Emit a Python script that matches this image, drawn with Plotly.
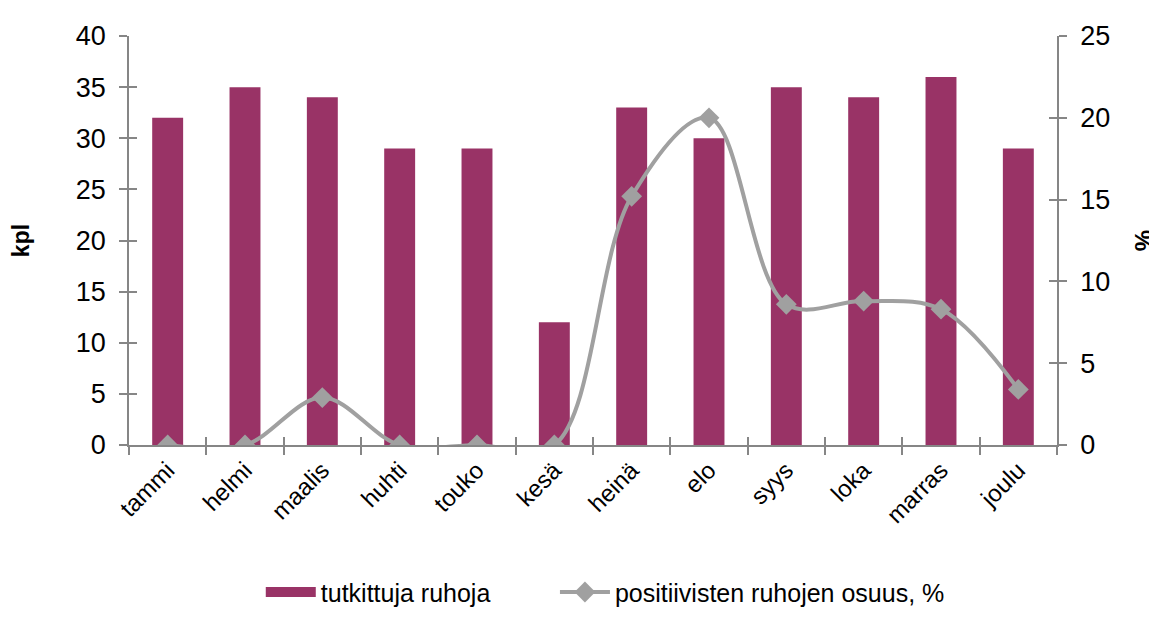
import plotly.graph_objects as go

months = ["tammi", "helmi", "maalis", "huhti", "touko", "kesä",
          "heinä", "elo", "syys", "loka", "marras", "joulu"]
examined = [32, 35, 34, 29, 29, 12, 33, 30, 35, 34, 36, 29]
positive_pct = [0, 0, 2.9, 0, 0, 0, 15.2, 20.0, 8.6, 8.8, 8.3, 3.4]

bar_name = "tutkittuja ruhoja"
line_name = "positiivisten ruhojen osuus, %"

FONT = "Arial, Liberation Sans, sans-serif"
AXIS_COLOR = "#868686"
BAR_COLOR = "#993366"
LINE_COLOR = "#A0A0A0"
TL = 8
n = len(months)
boundaries = [i - 0.5 for i in range(n + 1)]

fig = go.Figure()
fig.add_trace(go.Bar(
    x=months, y=examined, name=bar_name, legendgroup="bar", showlegend=False,
    marker=dict(color=BAR_COLOR, line=dict(width=0)),
    width=0.4, yaxis="y",
))
# legend entry for the bars (wide rectangle swatch like the original)
fig.add_trace(go.Scatter(
    x=[None], y=[None], name=bar_name, legendgroup="bar", mode="lines",
    line=dict(color=BAR_COLOR, width=15), hoverinfo="skip", legend="legend",
))
fig.add_trace(go.Scatter(
    x=months, y=positive_pct, name=line_name, yaxis="y2",
    mode="lines+markers", legend="legend2",
    line=dict(color=LINE_COLOR, width=4, shape="spline", smoothing=1.0),
    marker=dict(symbol="diamond", size=16, color=LINE_COLOR),
))
# invisible helper traces so the overlay axes (inner half of the crossing ticks) are drawn
for xa, ya, xv in [("x", "y3", months[0]), ("x", "y4", months[0]), ("x2", "y", 0)]:
    fig.add_trace(go.Scatter(x=[xv], y=[0], xaxis=xa, yaxis=ya, opacity=0,
                             showlegend=False, hoverinfo="skip", mode="markers"))

fig.update_layout(
    width=1157, height=619,
    margin=dict(l=121, r=97, t=28, b=167),
    paper_bgcolor="white", plot_bgcolor="white",
    font=dict(family=FONT, color="black"),
    showlegend=True,
    legend=dict(
        orientation="h", x=0.142, xanchor="left", y=-0.36, yanchor="middle",
        font=dict(size=25, family=FONT, color="black"), itemwidth=50,
        bgcolor="rgba(0,0,0,0)",
    ),
    legend2=dict(
        orientation="h", x=0.459, xanchor="left", y=-0.36, yanchor="middle",
        font=dict(size=25, family=FONT, color="black"), itemwidth=50,
        bgcolor="rgba(0,0,0,0)",
    ),
    xaxis=dict(
        type="category", range=[-0.5, n - 0.5],
        showline=True, linecolor=AXIS_COLOR, linewidth=1.5,
        ticks="outside", ticklen=TL, tickcolor=AXIS_COLOR, tickwidth=1.5,
        tickson="boundaries", tickangle=-45,
        tickfont=dict(size=24, family=FONT, color="black"),
        showgrid=False, zeroline=False,
    ),
    xaxis2=dict(
        overlaying="x", anchor="y", side="bottom", range=[-0.5, n - 0.5],
        tickmode="array", tickvals=boundaries, showticklabels=False,
        ticks="inside", ticklen=TL, tickcolor=AXIS_COLOR, tickwidth=1.5,
        showline=False, showgrid=False, zeroline=False,
    ),
    yaxis=dict(
        range=[0, 40], dtick=5, showline=True, linecolor=AXIS_COLOR, linewidth=1.5,
        ticks="outside", ticklen=TL, tickcolor=AXIS_COLOR, tickwidth=1.5,
        tickfont=dict(size=27, family=FONT, color="black"), ticklabelstandoff=8,
        showgrid=False, zeroline=False,
        title=dict(text="<b>kpl</b>", font=dict(size=23, family=FONT, color="black"), standoff=40),
    ),
    yaxis2=dict(
        range=[0, 25], dtick=5, overlaying="y", side="right", anchor="x",
        showline=True, linecolor=AXIS_COLOR, linewidth=1.5,
        ticks="outside", ticklen=TL, tickcolor=AXIS_COLOR, tickwidth=1.5,
        tickfont=dict(size=27, family=FONT, color="black"), ticklabelstandoff=8,
        showgrid=False, zeroline=False,
        title=dict(text="<b>%</b>", font=dict(size=24, family=FONT, color="black"), standoff=26),
    ),
    yaxis3=dict(
        range=[0, 40], dtick=5, overlaying="y", side="left", anchor="x",
        ticks="inside", ticklen=TL, tickcolor=AXIS_COLOR, tickwidth=1.5,
        showticklabels=False, showline=False, showgrid=False, zeroline=False,
    ),
    yaxis4=dict(
        range=[0, 25], dtick=5, overlaying="y", side="right", anchor="x",
        ticks="inside", ticklen=TL, tickcolor=AXIS_COLOR, tickwidth=1.5,
        showticklabels=False, showline=False, showgrid=False, zeroline=False,
    ),
)

fig.write_html("out.html")
